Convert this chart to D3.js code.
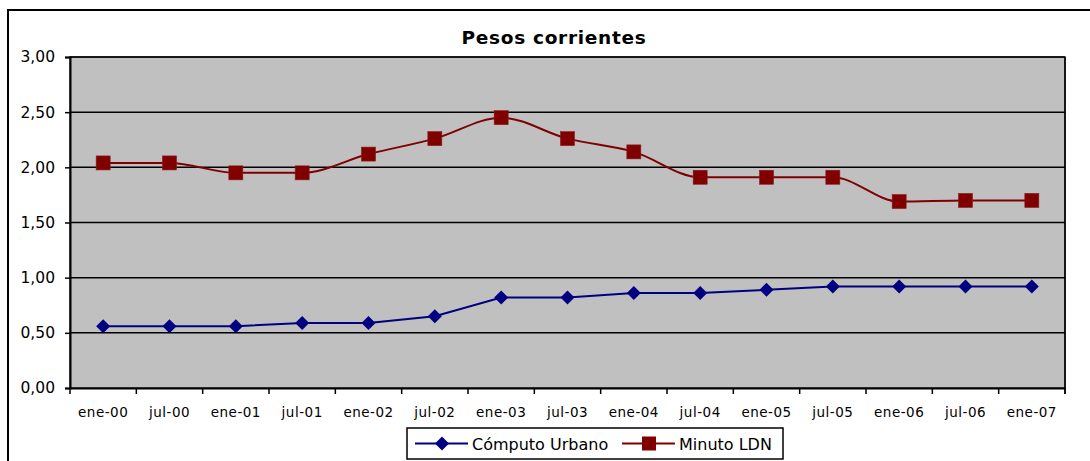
<!DOCTYPE html>
<html><head><meta charset="utf-8">
<script src="https://cdn.jsdelivr.net/npm/d3@7"></script>
<style>body{margin:0;background:#fff}svg{display:block}</style>
</head><body><svg id="c" width="1090" height="461"></svg>
<script>
const title = "Pesos corrientes";
const categories = ["ene-00","jul-00","ene-01","jul-01","ene-02","jul-02","ene-03","jul-03","ene-04","jul-04","ene-05","jul-05","ene-06","jul-06","ene-07"];
const computoUrbano = [0.56,0.56,0.56,0.59,0.59,0.65,0.82,0.82,0.86,0.86,0.89,0.92,0.92,0.92,0.92];
const minutoLDN = [2.04,2.04,1.95,1.95,2.12,2.26,2.45,2.26,2.14,1.91,1.91,1.91,1.69,1.70,1.70];
const yTicks = [0,0.5,1,1.5,2,2.5,3];
const seriesNames = ["Cómputo Urbano","Minuto LDN"];

const svg = d3.select("#c");
const FONT = "'DejaVu Sans', Verdana, sans-serif";
const L = 70, R = 1065, T = 57, B = 388;
const blue = "#000080", red = "#800000";

// outer chart border
svg.append("rect").attr("x",8).attr("y",10).attr("width",1100).attr("height",480)
  .attr("fill","#fff").attr("stroke","#000").attr("stroke-width",2);

const x = d3.scaleBand().domain(categories).range([L,R]).padding(0);
const y = d3.scaleLinear().domain([0,3]).range([B,T]);
const cx = d => x(d) + x.bandwidth()/2;

// plot background
svg.append("rect").attr("x",L).attr("y",T).attr("width",R-L).attr("height",B-T)
  .attr("fill","#C0C0C0").attr("stroke","#333").attr("stroke-width",1.5);

// gridlines
svg.append("g").selectAll("line").data(yTicks.filter(d=>d>0)).join("line")
  .attr("x1",L).attr("x2",R).attr("y1",d=>y(d)).attr("y2",d=>y(d))
  .attr("stroke","#000").attr("stroke-width",1.5);

// y axis
const yAxis = svg.append("g").attr("transform",`translate(${L},0)`)
  .call(d3.axisLeft(y).tickValues(yTicks).tickSize(5).tickPadding(10)
    .tickFormat(d => d3.format(".2f")(d).replace(".",",")));
yAxis.select(".domain").attr("stroke","#000").attr("stroke-width",2);
yAxis.selectAll(".tick line").attr("stroke","#000").attr("stroke-width",1.5);
yAxis.selectAll("text").attr("font-family",FONT).attr("font-size","15.5px").attr("fill","#000");

// x axis (ticks between categories)
const xAxis = svg.append("g").attr("transform",`translate(0,${B})`)
  .call(d3.axisBottom(x).tickSize(0).tickPadding(19));
xAxis.select(".domain").attr("stroke","#000").attr("stroke-width",2);
xAxis.selectAll("text").attr("font-family",FONT).attr("font-size","13.5px")
  .attr("letter-spacing","0.5px").attr("fill","#000");
const bounds = categories.map(c => x(c)).concat([R]);
svg.append("g").selectAll("line").data(bounds).join("line")
  .attr("x1",d=>d).attr("x2",d=>d).attr("y1",B).attr("y2",B+6)
  .attr("stroke","#000").attr("stroke-width",1.5);

// right plot border
svg.append("line").attr("x1",R).attr("x2",R).attr("y1",T).attr("y2",B+6)
  .attr("stroke","#000").attr("stroke-width",1.5);

// lines
const lineStraight = d3.line().x((d,i)=>cx(categories[i])).y(d=>y(d));
const lineSmooth = d3.line().x((d,i)=>cx(categories[i])).y(d=>y(d)).curve(d3.curveMonotoneX);

svg.append("path").datum(computoUrbano).attr("d",lineStraight)
  .attr("fill","none").attr("stroke",blue).attr("stroke-width",2);
svg.append("path").datum(minutoLDN).attr("d",lineSmooth)
  .attr("fill","none").attr("stroke",red).attr("stroke-width",2);

const diamond = s => `M0,${-s}L${s},0L0,${s}L${-s},0Z`;
svg.append("g").selectAll("path").data(computoUrbano).join("path")
  .attr("transform",(d,i)=>`translate(${cx(categories[i])},${y(d)})`)
  .attr("d",diamond(7)).attr("fill",blue);
svg.append("g").selectAll("rect").data(minutoLDN).join("rect")
  .attr("x",(d,i)=>cx(categories[i])-7).attr("y",d=>y(d)-7)
  .attr("width",14).attr("height",14).attr("fill",red).attr("stroke","#8c1a1a").attr("stroke-width",0.6);

// title
svg.append("text").attr("x",554).attr("y",44).attr("text-anchor","middle")
  .attr("font-family",FONT).attr("font-weight","bold").attr("font-size","18.5px")
  .attr("letter-spacing","0.7px").attr("fill","#000").text(title);

// legend
const lg = svg.append("g");
lg.append("rect").attr("x",407).attr("y",428).attr("width",376).attr("height",31)
  .attr("fill","#fff").attr("stroke","#000").attr("stroke-width",1.5);
const items = [{name:seriesNames[0],color:blue,x0:415,type:"d"},{name:seriesNames[1],color:red,x0:622,type:"s"}];
items.forEach(it => {
  const ly = 443.5;
  lg.append("line").attr("x1",it.x0).attr("x2",it.x0+53).attr("y1",ly).attr("y2",ly)
    .attr("stroke",it.color).attr("stroke-width",2);
  if (it.type==="d") lg.append("path").attr("transform",`translate(${it.x0+27},${ly})`).attr("d",diamond(7)).attr("fill",it.color);
  else lg.append("rect").attr("x",it.x0+20).attr("y",ly-7).attr("width",14).attr("height",14).attr("fill",it.color);
  lg.append("text").attr("x",it.x0+57).attr("y",ly+6).attr("font-family",FONT).attr("font-size","16px")
    .attr("fill","#000").text(it.name);
});
</script></body></html>
